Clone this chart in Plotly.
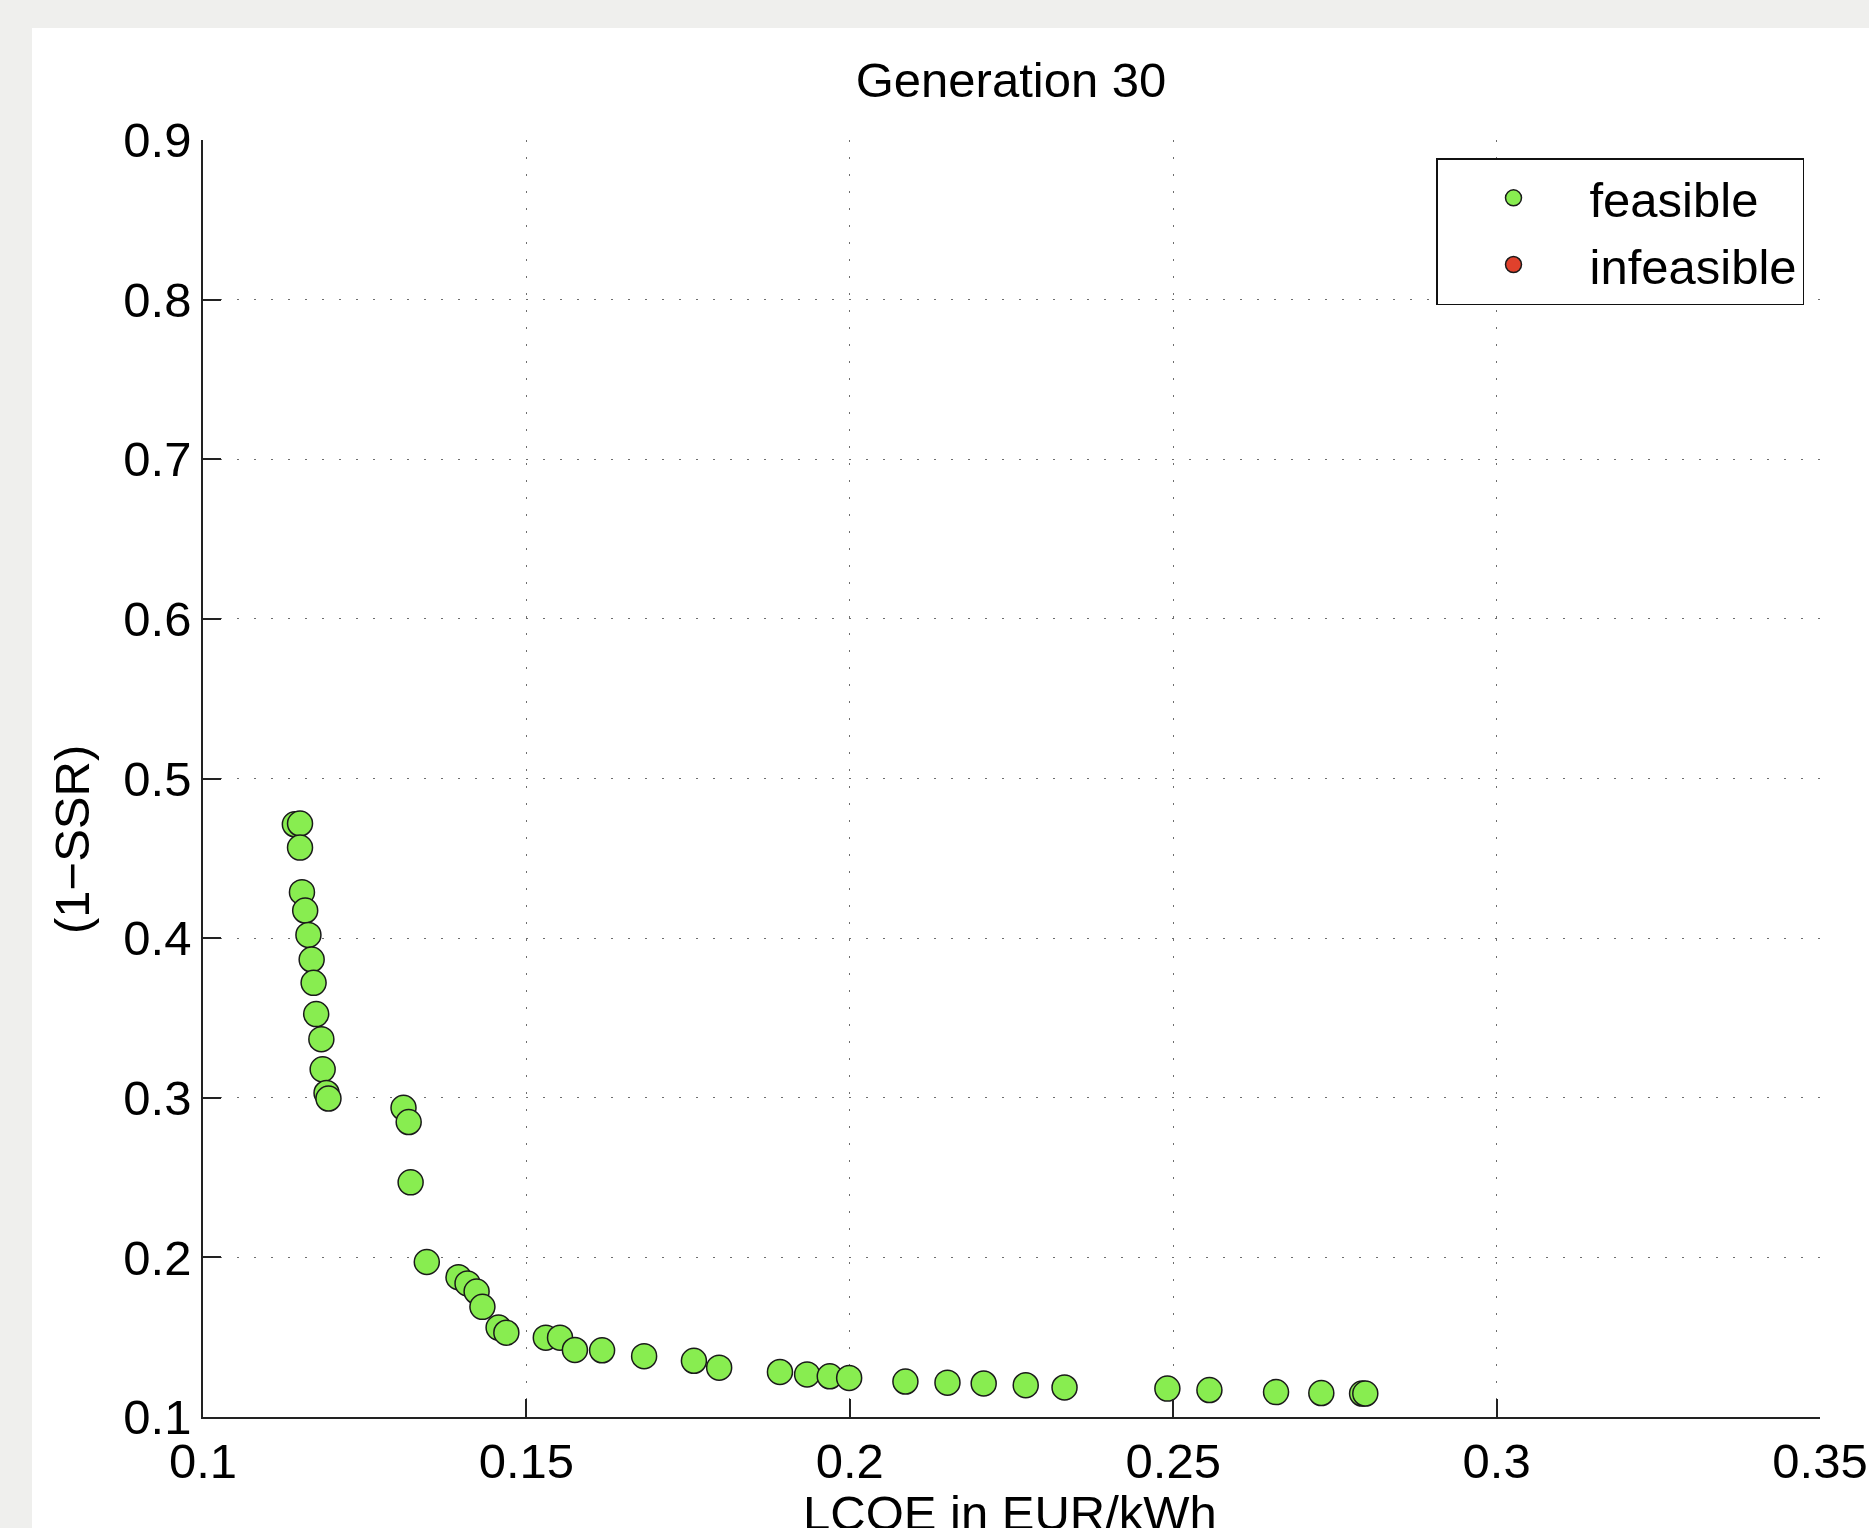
import plotly.graph_objects as go

# ---- data ----
feasible_lcoe = [0.1142, 0.1150, 0.1150, 0.1153, 0.1158, 0.1163, 0.1168, 0.1171, 0.1175,
                 0.1183, 0.1185, 0.1191, 0.1194, 0.1310, 0.1318, 0.1321, 0.1346, 0.1395,
                 0.1409, 0.1423, 0.1432, 0.1457, 0.1469, 0.1530, 0.1552, 0.1575, 0.1617,
                 0.1682, 0.1759, 0.1798, 0.1892, 0.1934, 0.1969, 0.1999, 0.2086, 0.2151,
                 0.2207, 0.2272, 0.2332, 0.2491, 0.2556, 0.2659, 0.2729, 0.2792, 0.2797]
feasible_1_ssr = [0.4713, 0.4718, 0.4567, 0.4288, 0.4173, 0.4020, 0.3866, 0.3720, 0.3524,
                  0.3367, 0.3178, 0.3030, 0.2995, 0.2937, 0.2848, 0.2470, 0.1971, 0.1876,
                  0.1837, 0.1786, 0.1690, 0.1560, 0.1528, 0.1497, 0.1497, 0.1420, 0.1418,
                  0.1381, 0.1352, 0.1309, 0.1282, 0.1267, 0.1255, 0.1245, 0.1222, 0.1215,
                  0.1210, 0.1199, 0.1185, 0.1178, 0.1169, 0.1156, 0.1150, 0.1147, 0.1147]
infeasible_lcoe = []
infeasible_1_ssr = []

x_ticks = [0.1, 0.15, 0.2, 0.25, 0.3, 0.35]
x_tick_labels = ["0.1", "0.15", "0.2", "0.25", "0.3", "0.35"]
y_ticks = [0.1, 0.2, 0.3, 0.4, 0.5, 0.6, 0.7, 0.8, 0.9]
y_tick_labels = ["0.1", "0.2", "0.3", "0.4", "0.5", "0.6", "0.7", "0.8", "0.9"]

title_text = "Generation 30"
x_title = "LCOE in EUR/kWh"
y_title = "(1\u2212SSR)"

FONT = "Liberation Sans, Arial, Helvetica, sans-serif"
GREEN = "#88ED50"
RED = "#E0412C"

W, H = 1869, 1528
L, R, T, B = 203, 49, 140, 111
pw, ph = W - L - R, H - T - B


def px_x(p):
    return (p - L) / pw


def px_y(p):
    return (H - B - p) / ph


fig = go.Figure()
fig.add_trace(go.Scatter(
    x=feasible_lcoe, y=feasible_1_ssr, mode="markers", name="feasible",
    marker=dict(size=25, color=GREEN, line=dict(color="#1a1a1a", width=1.5)),
))
fig.add_trace(go.Scatter(
    x=infeasible_lcoe if infeasible_lcoe else [None],
    y=infeasible_1_ssr if infeasible_1_ssr else [None],
    mode="markers", name="infeasible",
    marker=dict(size=25, color=RED, line=dict(color="#1a1a1a", width=1.5)),
))

grid = dict(showgrid=True, gridcolor="#6e6e6e", gridwidth=1.3, griddash="2px,15px")

fig.update_xaxes(
    range=[0.1, 0.35], tickmode="array", tickvals=x_ticks, ticktext=x_tick_labels,
    ticks="inside", ticklen=18, tickwidth=1.5, tickcolor="#222",
    showline=True, linecolor="#222", linewidth=1.5, mirror=False,
    zeroline=False, tickfont=dict(family=FONT, size=49, color="black"), **grid,
)
fig.update_yaxes(
    range=[0.1, 0.9], tickmode="array", tickvals=y_ticks, ticktext=y_tick_labels,
    ticks="inside", ticklen=18, tickwidth=1.5, tickcolor="#222",
    showline=True, linecolor="#222", linewidth=1.5, mirror=False,
    zeroline=False, tickfont=dict(family=FONT, size=49, color="black"), **grid,
)

fig.update_layout(
    width=W, height=H,
    margin=dict(l=L, r=R, t=T, b=B, autoexpand=False),
    paper_bgcolor="#EFEFED", plot_bgcolor="white",
    title=dict(text=title_text, x=(1011) / W, xanchor="center",
               y=1 - 80 / H, yanchor="middle",
               font=dict(family=FONT, size=49, color="black")),
    showlegend=True,
    legend=dict(x=px_x(1804), y=px_y(158), xanchor="right", yanchor="top",
                bgcolor="white", bordercolor="#111", borderwidth=1.5,
                font=dict(family=FONT, size=49, color="black"),
                itemwidth=142),
    shapes=[dict(type="rect", xref="paper", yref="paper", layer="below",
                 x0=px_x(32), x1=px_x(W + 5), y0=px_y(H + 5), y1=px_y(28),
                 fillcolor="white", line=dict(width=0))],
    annotations=[
        dict(text=y_title, xref="paper", yref="paper", x=px_x(72), y=px_y(840),
             xanchor="center", yanchor="middle", textangle=-90, showarrow=False,
             font=dict(family=FONT, size=49, color="black")),
        dict(text=x_title, xref="paper", yref="paper", x=px_x(1010), y=px_y(1513),
             xanchor="center", yanchor="middle", showarrow=False,
             font=dict(family=FONT, size=49, color="black")),
    ],
)

fig.write_html("out.html",
               config={"displayModeBar": False},
               post_script="document.body.style.margin='0';document.body.style.overflow='hidden';")
